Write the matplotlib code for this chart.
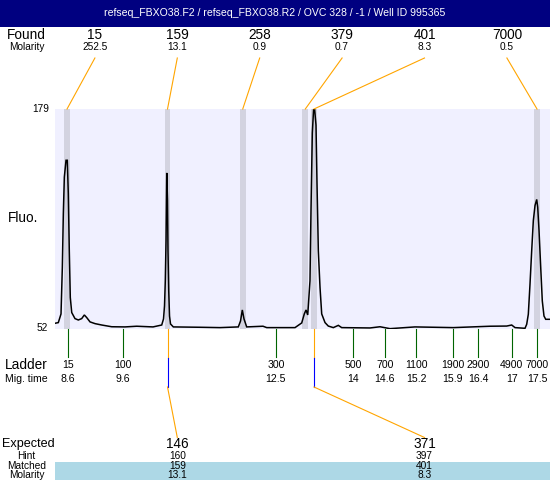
import matplotlib
matplotlib.use("Agg")
import matplotlib.pyplot as plt
from matplotlib.patches import Rectangle

plt.rcParams['font.family'] = ['Liberation Sans', 'DejaVu Sans']

# ---------------- data ----------------
title = "refseq_FBXO38.F2 / refseq_FBXO38.R2 / OVC 328 / -1 / Well ID 995365"

fluo_min, fluo_max = 52, 179
time_min, time_max = 8.359, 17.743

trace_time = [8.359, 8.422, 8.473, 8.498, 8.517, 8.536, 8.568, 8.592, 8.611, 8.630,
              8.649, 8.676, 8.738, 8.801, 8.865, 8.915, 8.960, 9.023, 9.118, 9.245,
              9.434, 9.686, 9.908, 10.217, 10.382, 10.416, 10.435, 10.450, 10.464, 10.477,
              10.492, 10.501, 10.515, 10.530, 10.549, 10.602, 11.108, 11.487, 11.834, 11.876,
              11.910, 11.942, 11.993, 12.302, 12.373, 12.625, 12.909, 13.036, 13.085, 13.118,
              13.150, 13.193, 13.212, 13.237, 13.269, 13.307, 13.326, 13.351, 13.383, 13.415,
              13.478, 13.540, 13.635, 13.730, 13.794, 14.331, 14.520, 14.710, 15.184, 15.910,
              16.606, 16.922, 17.017, 17.080, 17.269, 17.301, 17.332, 17.364, 17.396, 17.427,
              17.459, 17.491, 17.510, 17.535, 17.567, 17.597, 17.629, 17.662, 17.743]
trace_fluo = [55.3, 55.7, 60.7, 87.5, 118.5, 139.7, 149.4, 149.4, 130.3, 97.2,
              70.2, 61.5, 58.0, 57.2, 58.0, 60.1, 58.6, 56.1, 55.1, 54.3,
              53.3, 53.2, 53.6, 53.2, 54.3, 57.8, 65.3, 79.8, 103.0, 142.1,
              126.2, 97.2, 74.0, 59.5, 54.9, 53.2, 53.0, 52.8, 53.2, 56.6,
              63.0, 57.8, 53.2, 53.6, 52.8, 52.8, 52.8, 55.5, 60.7, 63.0,
              60.1, 79.8, 120.4, 165.1, 183.0, 169.7, 136.1, 97.2, 76.0, 60.7,
              55.7, 53.7, 52.8, 54.1, 52.8, 52.6, 53.3, 52.2, 53.2, 52.8,
              53.6, 53.7, 54.3, 52.8, 52.4, 54.7, 60.5, 77.9, 97.2, 114.6,
              123.3, 126.8, 122.3, 108.8, 87.5, 68.2, 59.5, 57.6, 57.6]

found_sizes = [15, 159, 258, 379, 401, 7000]
found_molarity = [252.5, 13.1, 0.9, 0.7, 8.3, 0.5]
found_times = [8.587, 10.492, 11.918, 13.104, 13.269, 17.497]

ladder_sizes = [15, 100, 300, 500, 700, 1100, 1900, 2900, 4900, 7000]
ladder_times = [8.600, 9.639, 12.545, 14.014, 14.613, 15.212, 15.897, 16.382, 17.015, 17.500]

expected_sizes = [146, 371]
hint_sizes = [160, 397]
matched_sizes = [159, 401]
matched_molarity = [13.1, 8.3]

# ---------------- layout ----------------
W, H = 550, 480
PL, PR, PT, PB = 55, 550, 109, 329

fig = plt.figure(figsize=(W / 100, H / 100), dpi=100)
fig.patch.set_facecolor('white')

ax = fig.add_axes([PL / W, 1 - PB / H, (PR - PL) / W, (PB - PT) / H])
ax.set_facecolor('#F0F0FF')
ax.set_xlim(time_min, time_max)
ax.set_ylim(fluo_min, fluo_max)
for s in ax.spines.values():
    s.set_visible(False)
ax.set_xticks([])
ax.set_yticks([])
for t in found_times:
    ax.axvspan(t - 0.055, t + 0.055, color='#D3D3E0', lw=0, zorder=1)
ax.plot(trace_time, trace_fluo, color='black', lw=1.1, zorder=3,
        solid_joinstyle='miter')

ov = fig.add_axes([0, 0, 1, 1], zorder=5)
ov.set_xlim(0, W)
ov.set_ylim(H, 0)
ov.axis('off')


def px(t):
    return ax.transData.transform((t, fluo_min))[0]


def fmt(v):
    s = f"{v:.1f}"
    return s[:-2] if s.endswith('.0') else s


ORANGE = '#FFA500'
GREEN = '#006400'
BLUE = '#0000FF'
BIG = 9.8
MID = 7.6
SMALL = 7.3

# title bar
ov.add_patch(Rectangle((0, 0), W, 27, color='#000080', lw=0))
ov.text(275, 13.5, title, color='white', fontsize=7.6, ha='center', va='center')

LX = 26.5
# found rows
ov.text(LX, 35, "Found", fontsize=BIG, ha='center', va='center')
ov.text(LX, 47.5, "Molarity", fontsize=SMALL, ha='center', va='center')
col_x = [12.5 + 82.4 * (i + 1) for i in range(len(found_sizes))]
for i, (sz, mol, t) in enumerate(zip(found_sizes, found_molarity, found_times)):
    cx = col_x[i]
    ov.text(cx, 35, str(sz), fontsize=BIG, ha='center', va='center')
    ov.text(cx, 47.5, fmt(mol), fontsize=SMALL, ha='center', va='center')
    ov.plot([cx, px(t)], [58, PT], color=ORANGE, lw=0.8)

# y axis labels
ov.text(49, PT, str(fluo_max), fontsize=SMALL, ha='right', va='center')
ov.text(48, PB - 1, str(fluo_min), fontsize=SMALL, ha='right', va='center')
ov.text(23, 218, "Fluo.", fontsize=BIG, ha='center', va='center')

# ladder
ov.text(LX, 365, "Ladder", fontsize=BIG, ha='center', va='center')
ov.text(LX, 379, "Mig. time", fontsize=MID, ha='center', va='center')
for sz, t in zip(ladder_sizes, ladder_times):
    x = px(t)
    ov.plot([x, x], [PB, 357], color=GREEN, lw=0.8)
    ov.text(x, 365, str(sz), fontsize=MID, ha='center', va='center')
    ov.text(x, 379, fmt(t), fontsize=MID, ha='center', va='center')

# expected / matched table
ov.add_patch(Rectangle((PL, 462), PR - PL, H - 462, color='#ADD8E6', lw=0))
ov.text(28, 443.5, "Expected", fontsize=9.1, ha='center', va='center')
ov.text(LX, 456, "Hint", fontsize=SMALL, ha='center', va='center')
ov.text(LX, 466, "Matched", fontsize=SMALL, ha='center', va='center')
ov.text(LX, 475.5, "Molarity", fontsize=SMALL, ha='center', va='center')
for e, h, m, mol in zip(expected_sizes, hint_sizes, matched_sizes, matched_molarity):
    i = found_sizes.index(m)
    cx = col_x[i]
    x = px(found_times[i])
    ov.plot([x, x], [PB, 358], color=ORANGE, lw=0.8)
    ov.plot([x, x], [358, 387], color=BLUE, lw=0.8)
    ov.plot([x, cx], [387, 437.5], color=ORANGE, lw=0.8)
    ov.text(cx, 443.5, str(e), fontsize=BIG, ha='center', va='center')
    ov.text(cx, 456, str(h), fontsize=SMALL, ha='center', va='center')
    ov.text(cx, 466, str(m), fontsize=SMALL, ha='center', va='center')
    ov.text(cx, 475.5, fmt(mol), fontsize=SMALL, ha='center', va='center')

fig.savefig("out.png", dpi=100)
